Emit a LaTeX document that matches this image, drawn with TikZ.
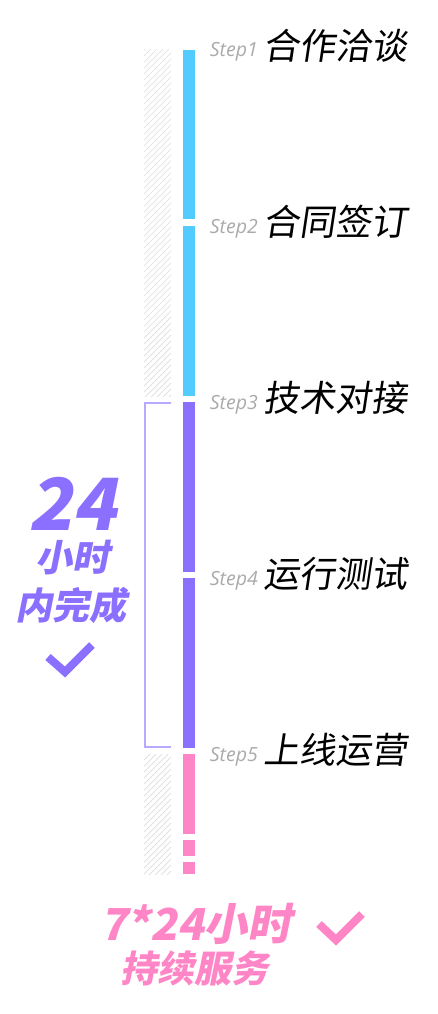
\documentclass[tikz,border=0pt]{standalone}
\usepackage{fontspec}
\newfontfamily\cjkt{Noto Sans CJK SC}[FakeSlant=0.15]
\newfontfamily\cjkb{Noto Sans CJK SC}[FakeSlant=0.2]
\newfontfamily\stepfont{Open Sans}
\definecolor{cblue}{HTML}{52CCFF}
\definecolor{cpurple}{HTML}{8B6FFF}
\definecolor{cpink}{HTML}{FF86C6}
\definecolor{cbracket}{HTML}{B8A8FF}
\definecolor{cgray}{HTML}{AAAAAA}
\definecolor{chatch}{HTML}{DDDDDD}
\tikzset{
  steplbl/.style={anchor=base east, text=cgray, font=\stepfont\itshape\fontsize{19.5}{19.5}\selectfont, inner sep=0pt},
  title/.style={anchor=west, text=black, font=\cjkt\fontsize{36}{36}\selectfont, inner sep=0pt},
  hatch/.style={draw=chatch, line width=0.7pt},
  bracket/.style={draw=cbracket, line width=1.2pt},
  checkp/.style={draw=cpurple, line width=8pt, line cap=butt, line join=miter},
  checkk/.style={draw=cpink, line width=8pt, line cap=butt, line join=miter},
  bigp/.style={text=cpurple, inner sep=0pt},
  bigk/.style={text=cpink, inner sep=0pt},
}
\begin{document}
\begin{tikzpicture}[x=1pt,y=-1pt]
\useasboundingbox (0,0) rectangle (438,1014);
\fill[white] (0,0) rectangle (438,1014);
% hatch regions
\begin{scope}
\clip (144,50) rectangle (171,396);
\foreach \i in {0,6,...,390} \draw[hatch] (144,50+\i) -- ++(40,-40);
\end{scope}
\begin{scope}
\clip (144,754) rectangle (171,874);
\foreach \i in {0,6,...,162} \draw[hatch] (144,754+\i) -- ++(40,-40);
\end{scope}
% bracket
\draw[bracket] (171,403) -- (145,403) -- (145,747) -- (171,747);
% bars
\fill[cblue] (183,50) rectangle (195,219);
\fill[cblue] (183,226) rectangle (195,396);
\fill[cpurple] (183,402) rectangle (195,572);
\fill[cpurple] (183,578) rectangle (195,748);
\fill[cpink] (183,754) rectangle (195,834);
\fill[cpink] (183,840) rectangle (195,856);
\fill[cpink] (183,862) rectangle (195,874);
% step labels
\node[steplbl] (s1) at (258,57) {Step1};
\node[steplbl] (s2) at (258,233) {Step2};
\node[steplbl] (s3) at (258,409) {Step3};
\node[steplbl] (s4) at (258,585) {Step4};
\node[steplbl] (s5) at (258,761) {Step5};
\node[title] (t1) at (263,46) {合作洽谈};
\node[title] (t2) at (263,222) {合同签订};
\node[title] (t3) at (263,398) {技术对接};
\node[title] (t4) at (263,574) {运行测试};
\node[title] (t5) at (263,750) {上线运营};
% left text
\node[bigp, font=\cjkb\bfseries\fontsize{72}{72}\selectfont] (h24) at (72,504) {24};
\node[bigp, font=\cjkb\bfseries\fontsize{37}{37}\selectfont] (xs) at (72,558) {小时};
\node[bigp, font=\cjkb\bfseries\fontsize{37}{37}\selectfont] (nwc) at (71,605) {内完成};
\draw[checkp] (48,657) -- (65,672) -- (92,645);
% bottom text
\node[bigk, font=\cjkb\bfseries\fontsize{44}{44}\selectfont] (s724) at (196,924) {7*24小时};
\node[bigk, font=\cjkb\bfseries\fontsize{37}{37}\selectfont] (cxfw) at (194,968) {持续服务};
\draw[checkk] (319,924) -- (336,940) -- (362,914);
\end{tikzpicture}
\end{document}
